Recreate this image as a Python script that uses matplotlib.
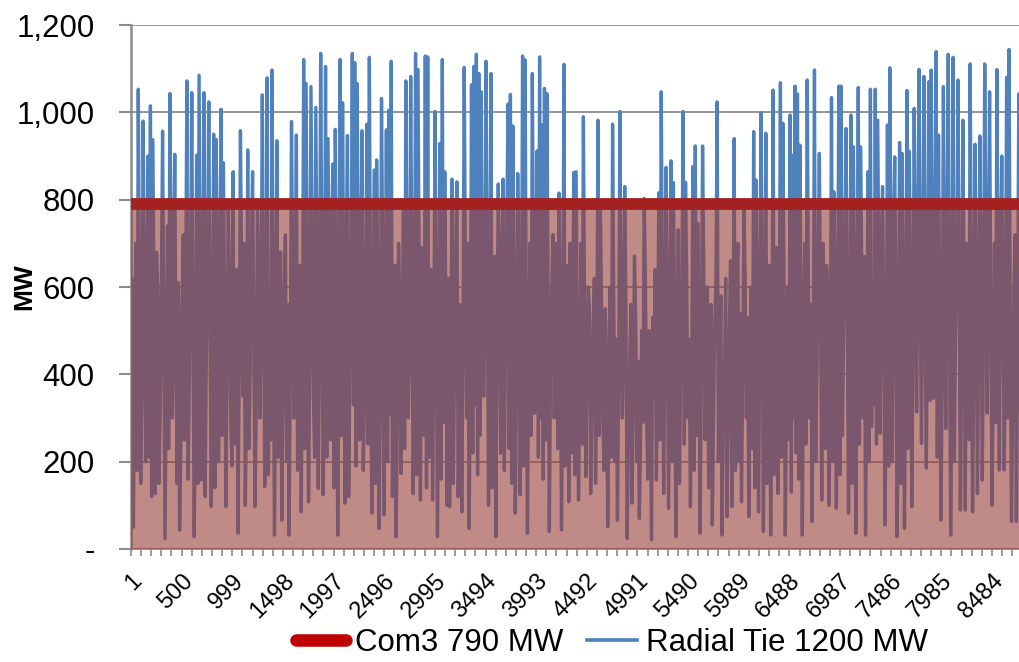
import numpy as np
import matplotlib
matplotlib.use("Agg")
import matplotlib.pyplot as plt
from matplotlib.lines import Line2D
from matplotlib.ticker import FuncFormatter

plt.rcParams['font.family'] = ['Liberation Sans', 'DejaVu Sans']

# Radial tie flow (MW): two readings per day ("a" then "b"), six blocks
jan_feb_a = [300, 50, 700, 1053, 150, 980, 200, 900, 1015, 937, 127, 600, 300, 957, 24, 740,
             1043, 300, 904, 150, 43, 550, 250, 1072, 400, 1045, 28, 902, 1085, 158, 1045, 450,
             1024, 97, 950, 938, 200, 1007, 885, 97, 780, 300, 864, 500, 36, 958, 350, 100,
             914, 400, 864, 97, 790, 300, 1040, 143, 1079, 600, 1097, 32, 935]
jan_feb_b = [620, 420, 180, 560, 380, 640, 450, 210, 120, 520, 680, 150, 610, 480, 380, 230,
             700, 560, 430, 610, 240, 720, 590, 160, 650, 470, 330, 150, 610, 430, 120, 700,
             500, 390, 140, 680, 450, 260, 540, 420, 620, 190, 240, 640, 420, 620, 700, 310,
             230, 690, 480, 330, 640, 520, 600, 410, 170, 250, 520, 460, 210]
mar_apr_a = [500, 66, 600, 200, 32, 979, 300, 948, 400, 85, 1121, 1066, 108, 1059, 350, 1011,
             139, 1135, 124, 1105, 940, 250, 882, 961, 32, 1121, 1022, 105, 947, 400, 1135, 1114,
             1066, 250, 958, 350, 973, 1126, 82, 868, 891, 47, 1032, 78, 960, 1005, 1117, 400,
             28, 700, 173, 790, 1072, 300, 1082, 127, 1135, 1098, 112, 600, 1129]
mar_apr_b = [680, 350, 720, 560, 410, 620, 530, 180, 650, 460, 230, 590, 420, 690, 210, 560,
             480, 640, 380, 210, 600, 710, 140, 590, 430, 260, 500, 660, 120, 640, 330, 190,
             560, 700, 180, 620, 240, 540, 460, 150, 580, 360, 670, 440, 200, 310, 120, 650,
             310, 580, 420, 230, 610, 480, 600, 390, 170, 620, 690, 260, 140]
may_jun_a = [1127, 500, 112, 1002, 28, 929, 1121, 864, 100, 97, 847, 400, 841, 250, 85, 1103,
             300, 47, 1063, 1105, 1133, 1089, 1047, 350, 1117, 100, 1089, 400, 28, 836, 219, 847,
             500, 1019, 1041, 969, 82, 860, 124, 1129, 1120, 36, 700, 1089, 311, 912, 1127, 971,
             1055, 1043, 40, 600, 300, 700, 815, 44, 1110, 500, 108, 600, 862]
may_jun_b = [210, 640, 450, 590, 380, 160, 290, 530, 620, 410, 150, 680, 120, 560, 470, 640,
             700, 350, 220, 330, 170, 260, 610, 540, 620, 420, 140, 670, 480, 610, 650, 180,
             720, 230, 150, 560, 390, 600, 420, 190, 540, 420, 260, 620, 680, 210, 300, 160,
             250, 580, 430, 720, 540, 230, 520, 380, 190, 650, 700, 220, 170]
jul_aug_a = [864, 112, 700, 990, 166, 600, 127, 500, 150, 982, 776, 300, 550, 51, 600, 973,
             200, 66, 1002, 300, 830, 24, 400, 105, 671, 200, 70, 500, 803, 300, 500, 21,
             350, 158, 816, 1047, 127, 874, 93, 889, 839, 28, 731, 400, 1002, 840, 300, 97,
             876, 923, 746, 36, 923, 250, 600, 300, 55, 500, 1024, 350, 32]
jul_aug_b = [480, 360, 240, 520, 430, 550, 330, 620, 410, 260, 540, 180, 450, 320, 210, 560,
             480, 380, 600, 450, 540, 260, 560, 330, 520, 430, 250, 290, 610, 160, 420, 530,
             640, 380, 250, 590, 460, 580, 390, 200, 510, 360, 150, 620, 240, 600, 480, 350,
             180, 260, 500, 420, 640, 400, 140, 560, 300, 620, 200, 580, 310]
sep_oct_a = [400, 74, 500, 97, 940, 600, 200, 108, 780, 300, 74, 600, 956, 845, 85, 999,
             40, 952, 400, 32, 1051, 400, 127, 1068, 975, 32, 600, 994, 902, 1060, 1042, 925,
             32, 700, 1074, 300, 63, 1097, 400, 906, 112, 500, 650, 100, 1034, 818, 93, 1060,
             1060, 500, 963, 82, 994, 921, 36, 1057, 921, 300, 32, 864, 1053]
sep_oct_b = [620, 300, 660, 420, 180, 700, 540, 400, 620, 530, 360, 230, 140, 560, 460, 610,
             380, 150, 650, 420, 170, 690, 480, 210, 600, 360, 250, 130, 300, 220, 160, 560,
             430, 240, 620, 560, 410, 200, 650, 540, 700, 230, 560, 380, 200, 590, 450, 170,
             260, 680, 520, 400, 150, 580, 430, 240, 610, 670, 420, 200, 280]
nov_dec_a = [600, 1053, 982, 265, 830, 55, 971, 1102, 200, 898, 28, 931, 906, 47, 1050, 911,
             97, 1009, 314, 1098, 242, 1082, 185, 1070, 1097, 345, 1139, 948, 66, 1059, 276, 1133,
             32, 1126, 500, 1074, 89, 982, 89, 400, 1111, 85, 927, 127, 946, 158, 1111, 311,
             1047, 100, 700, 1098, 181, 900, 181, 1080, 1144, 63, 600, 63, 1042]
nov_dec_b = [330, 240, 620, 700, 480, 380, 190, 600, 720, 510, 400, 150, 560, 420, 230, 590,
             450, 640, 720, 560, 680, 520, 650, 340, 620, 700, 210, 520, 380, 600, 690, 540,
             410, 200, 650, 560, 430, 600, 700, 250, 580, 420, 610, 460, 630, 520, 700, 640,
             540, 380, 290, 610, 660, 580, 470, 300, 520, 340, 720, 480, 320]

com3_mw = 790
n_hours = 8760
label_hours = list(range(1, n_hours + 1, 499))
y_ticks = [0, 200, 400, 600, 800, 1000, 1200]

blocks = [(jan_feb_a, jan_feb_b), (mar_apr_a, mar_apr_b), (may_jun_a, may_jun_b),
          (jul_aug_a, jul_aug_b), (sep_oct_a, sep_oct_b), (nov_dec_a, nov_dec_b)]
radial = np.concatenate([np.column_stack([a, b]).ravel() for a, b in blocks]).astype(float)
hours = np.linspace(1, n_hours, len(radial))

fig = plt.figure(figsize=(10.2, 6.62), dpi=100)
ax = fig.add_axes([0.1284, 0.1707, 0.8716, 0.7915])

ax.plot(hours, radial, color='#4F81BD', lw=2.4, zorder=2)
ax.fill_between([1, n_hours], 0, com3_mw, color='#973C37', alpha=0.6, lw=0, zorder=3)
ax.plot([1, n_hours], [com3_mw, com3_mw], color='#A52121', lw=8.5, solid_capstyle='butt', zorder=4)

ax.set_xlim(1, n_hours)
ax.set_ylim(0, 1200)
ax.set_yticks(y_ticks)
ax.yaxis.set_major_formatter(FuncFormatter(lambda v, p: '-' if v == 0 else f'{int(v):,}'))
ax.grid(axis='y', color='#8C8C8C', lw=1.3)
ax.set_axisbelow(True)

minor = np.arange(1, n_hours + 1, 99.8)
ax.set_xticks(minor, minor=True)
ax.set_xticks(label_hours)
ax.set_xticklabels([str(h) for h in label_hours], rotation=45, ha='right',
                   rotation_mode='anchor', fontsize=17)
ax.tick_params(axis='x', which='both', length=5, color='#8C8C8C', width=1.2, pad=10)
ax.tick_params(axis='y', length=9, color='#8C8C8C', width=1.5, labelsize=22.5, pad=17)

for s in ['top', 'right']:
    ax.spines[s].set_visible(False)
ax.spines['left'].set_color('#8C8C8C')
ax.spines['left'].set_linewidth(1.8)
ax.spines['bottom'].set_color('#8C8C8C')
ax.spines['bottom'].set_linewidth(1.3)

ax.set_ylabel('MW', fontsize=19, fontweight='bold')
ax.yaxis.set_label_coords(-0.106, 0.5)

handles = [Line2D([], [], color='#C00000', lw=9, solid_capstyle='round'),
           Line2D([], [], color='#4F81BD', lw=2.6)]
fig.legend(handles, ['Com3 790 MW', 'Radial Tie 1200 MW'], loc='center',
           bbox_to_anchor=(0.6, 0.029), ncol=2, frameon=False, fontsize=22.5,
           handlelength=1.6, handletextpad=0.3, columnspacing=0.75)

fig.savefig('out.png', dpi=100)
